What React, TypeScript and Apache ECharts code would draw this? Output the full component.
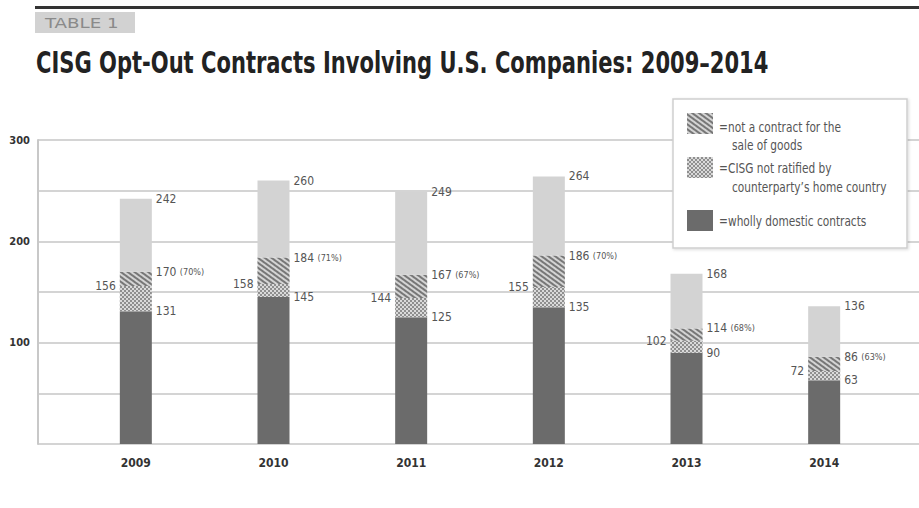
import React, { useEffect, useRef } from "react";
import * as echarts from "echarts";

const years = ["2009", "2010", "2011", "2012", "2013", "2014"];
const domestic = [131, 145, 125, 135, 90, 63];
const notRatifiedTop = [156, 158, 144, 155, 102, 72];
const notGoodsTop = [170, 184, 167, 186, 114, 86];
const totals = [242, 260, 249, 264, 168, 136];
const shares = [70, 71, 67, 70, 68, 63];
const yTickLabels = [100, 200, 300];

const FONT = '"Liberation Sans Narrow", "DejaVu Sans Condensed", "Roboto", sans-serif';

const NAME_GOODS = "not a contract for the sale of goods";
const NAME_RATIFIED = "CISG not ratified by counterparty's home country";
const NAME_DOMESTIC = "wholly domestic contracts";
const NAME_REST = "other opt-out contracts";

export default function App() {
  const ref = useRef<HTMLDivElement>(null);
  useEffect(() => {
    if (!ref.current) return;
    const chart = echarts.init(ref.current, null, { renderer: "svg" });

    const seg1 = domestic;
    const seg2 = notRatifiedTop.map((v, i) => v - domestic[i]);
    const seg3 = notGoodsTop.map((v, i) => v - notRatifiedTop[i]);
    const seg4 = totals.map((v, i) => v - notGoodsTop[i]);

    const labelText = { fontFamily: FONT, fontSize: 12, color: "#555" };
    const rightLabel = {
      show: true,
      position: ["100%", 0],
      align: "left",
      verticalAlign: "middle",
      offset: [4, 0],
      ...labelText,
    };

    const hatchDecal = {
      symbol: "rect",
      symbolSize: 1,
      color: "#777",
      backgroundColor: "#d4d4d4",
      dashArrayX: [1, 0],
      dashArrayY: [2, 2],
      rotation: Math.PI / 5,
    };
    const dotDecal = {
      symbol: "rect",
      symbolSize: 1,
      color: "#8f8f8f",
      backgroundColor: "#dadada",
      dashArrayX: [
        [2, 2],
        [0, 2, 2, 0],
      ],
      dashArrayY: [2, 0],
      rotation: 0,
    };

    const legendItem = (name: string, top: number) => ({
      left: 687,
      top,
      padding: 0,
      itemWidth: 26,
      itemHeight: 21,
      icon: "rect",
      data: [name],
      formatter: () => "",
      selectedMode: false,
      z: 6,
    });

    const legendText = (text: string, x: number, y: number) => ({
      type: "text",
      x,
      y,
      z: 7,
      scaleX: 0.84,
      style: {
        text,
        font: `14px ${FONT}`,
        fill: "#555",
        verticalAlign: "middle",
        align: "left",
      },
    });

    chart.setOption({
      animation: false,
      backgroundColor: "#fff",
      grid: [
        { left: 38, right: 0, top: 140, bottom: 64 },
        { left: 67, width: 826, top: 140, bottom: 64 },
      ],
      xAxis: [
        { type: "value", gridIndex: 0, min: 0, max: 1, show: false },
        {
          type: "category",
          gridIndex: 1,
          data: years,
          axisLine: { show: false },
          axisTick: { show: false },
          axisLabel: {
            margin: 13,
            fontFamily: FONT,
            fontWeight: "bold",
            fontSize: 12,
            color: "#333",
          },
        },
      ],
      yAxis: [
        {
          type: "value",
          gridIndex: 0,
          min: 0,
          max: 300,
          interval: 50,
          axisLine: { show: true, lineStyle: { color: "#c8c8c8", width: 2 } },
          axisTick: { show: false },
          axisLabel: {
            margin: 8,
            fontFamily: FONT,
            fontWeight: "bold",
            fontSize: 11,
            color: "#333",
            formatter: (v: number) => (yTickLabels.includes(v) ? String(v) : ""),
          },
          splitLine: { show: true, lineStyle: { color: "#d4d4d4", width: 2 } },
        },
        { type: "value", gridIndex: 1, min: 0, max: 300, interval: 50, show: false },
      ],
      legend: [
        legendItem(NAME_GOODS, 113),
        legendItem(NAME_RATIFIED, 157),
        legendItem(NAME_DOMESTIC, 210),
      ],
      series: [
        {
          name: NAME_DOMESTIC,
          type: "bar",
          stack: "t",
          xAxisIndex: 1,
          yAxisIndex: 1,
          barWidth: 32,
          data: seg1,
          itemStyle: { color: "#6b6b6b" },
          label: { ...rightLabel, formatter: (p: any) => String(domestic[p.dataIndex]) },
        },
        {
          name: NAME_RATIFIED,
          type: "bar",
          stack: "t",
          xAxisIndex: 1,
          yAxisIndex: 1,
          barWidth: 32,
          data: seg2,
          itemStyle: { color: "#dadada", decal: dotDecal },
          label: {
            show: true,
            position: [0, 0],
            align: "right",
            verticalAlign: "middle",
            offset: [-4, 0],
            ...labelText,
            formatter: (p: any) => String(notRatifiedTop[p.dataIndex]),
          },
        },
        {
          name: NAME_GOODS,
          type: "bar",
          stack: "t",
          xAxisIndex: 1,
          yAxisIndex: 1,
          barWidth: 32,
          data: seg3,
          itemStyle: { color: "#d4d4d4", decal: hatchDecal },
          label: {
            ...rightLabel,
            formatter: (p: any) =>
              `${notGoodsTop[p.dataIndex]} {p|(${shares[p.dataIndex]}%)}`,
            rich: { p: { fontFamily: FONT, fontSize: 9, color: "#555" } },
          },
        },
        {
          name: NAME_REST,
          type: "bar",
          stack: "t",
          xAxisIndex: 1,
          yAxisIndex: 1,
          barWidth: 32,
          data: seg4,
          itemStyle: { color: "#d3d3d3" },
          label: { ...rightLabel, formatter: (p: any) => String(totals[p.dataIndex]) },
        },
      ],
      graphic: [
        {
          type: "rect",
          z: 5,
          shape: { x: 35, y: 6, width: 884, height: 3 },
          style: { fill: "#333" },
        },
        {
          type: "rect",
          z: 5,
          shape: { x: 35, y: 12, width: 100, height: 21 },
          style: { fill: "#d2d2d2" },
        },
        {
          type: "text",
          z: 6,
          x: 45,
          y: 23,
          scaleX: 1.45,
          style: {
            text: "TABLE 1",
            font: `14px ${FONT}`,
            fill: "#8a8a8a",
            verticalAlign: "middle",
          },
        },
        {
          type: "text",
          z: 6,
          x: 36,
          y: 62,
          scaleX: 0.78,
          style: {
            text: "CISG Opt-Out Contracts Involving U.S. Companies: 2009–2014",
            font: `bold 30px ${FONT}`,
            fill: "#222",
            verticalAlign: "middle",
          },
        },
        {
          type: "rect",
          z: 4,
          shape: { x: 673, y: 99, width: 234, height: 149 },
          style: {
            fill: "#fff",
            stroke: "#cfcfcf",
            lineWidth: 1.5,
            shadowBlur: 3,
            shadowColor: "rgba(0,0,0,0.15)",
            shadowOffsetX: 1,
            shadowOffsetY: 1,
          },
        },
        legendText("=", 719, 127),
        legendText("not a contract for the", 728, 127),
        legendText("sale of goods", 732, 145),
        legendText("=", 719, 168),
        legendText("CISG not ratified by", 728, 168),
        legendText("counterparty\u2019s home country", 732, 187),
        legendText("=", 719, 221),
        legendText("wholly domestic contracts", 728, 221),
      ],
    });
    return () => chart.dispose();
  }, []);
  return (
    <div
      ref={ref}
      style={{ position: "fixed", left: 0, top: 0, width: 919, height: 508 }}
    />
  );
}
